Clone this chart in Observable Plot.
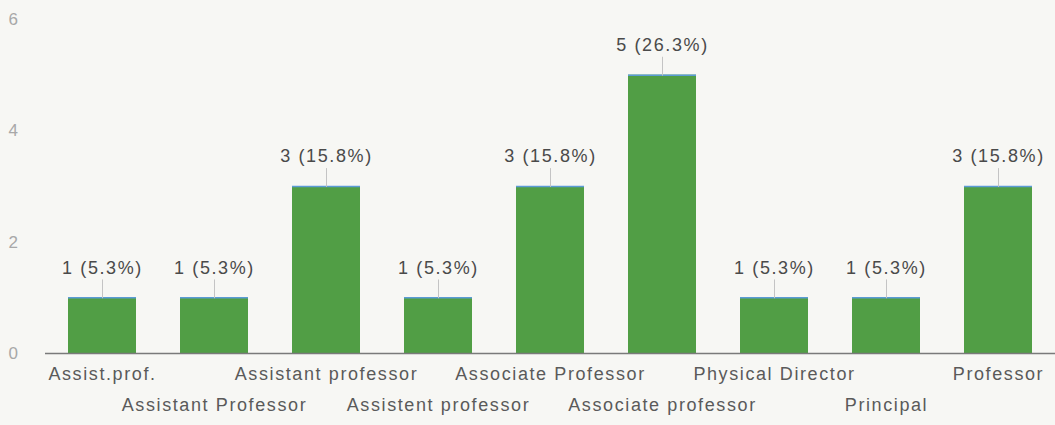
<!DOCTYPE html>
<html>
<head>
<meta charset="utf-8">
<script src="https://cdn.jsdelivr.net/npm/d3@7"></script>
<script src="https://cdn.jsdelivr.net/npm/@observablehq/plot@0.6"></script>
<style>
  html, body { margin: 0; padding: 0; background: #f7f7f4; }
  #chart svg text { letter-spacing: 1.6px; }
</style>
</head>
<body>
<div id="chart"></div>
<script>
const categories = ["Assist.prof.", "Assistant Professor", "Assistant professor", "Assistent professor", "Associate Professor", "Associate professor", "Physical Director", "Principal", "Professor"];
const counts = [1, 1, 3, 1, 3, 5, 1, 1, 3];
const percents = ["5.3%", "5.3%", "15.8%", "5.3%", "15.8%", "26.3%", "5.3%", "5.3%", "15.8%"];
const yTicks = [0, 2, 4, 6];

const data = categories.map((c, i) => ({cat: c, v: counts[i], label: `${counts[i]} (${percents[i]})`, row: i % 2}));

const spike = {draw(ctx, l) { ctx.moveTo(0, 0); ctx.lineTo(0, -l); }};

const chart = Plot.plot({
  width: 1055,
  height: 425,
  marginLeft: 45,
  marginRight: 0,
  marginTop: 19,
  marginBottom: 72,
  style: {background: "#f7f7f4", fontFamily: "'Liberation Sans', Arial, sans-serif", overflow: "visible"},
  x: {domain: categories, paddingInner: 0.39, paddingOuter: 0.195, axis: null},
  y: {domain: [0, 6], axis: null},
  marks: [
    Plot.axisY({ticks: yTicks, tickFormat: d => String(d), label: null, tickSize: 0, tickPadding: 26, fontSize: 17, color: "#a8a8a8"}),
    Plot.barY(data, {x: "cat", y: "v", fill: "#519e45"}),
    Plot.tickY(data, {x: "cat", y: "v", stroke: "#5b9bd5", strokeWidth: 1.5}),
    Plot.ruleY([0], {stroke: "#7a7a7a", strokeWidth: 1.5}),
    Plot.vector(data, {x: "cat", y: "v", length: 18, anchor: "start", rotate: 0, stroke: "#c4c4c4", strokeWidth: 1, shape: spike}),
    Plot.text(data, {x: "cat", y: "v", text: "label", dy: -30, fontSize: 18, fill: "#4a4a4a"}),
    Plot.text(data.filter(d => d.row === 0), {x: "cat", text: "cat", frameAnchor: "bottom", dy: 26, fontSize: 18, fill: "#5a5a5a"}),
    Plot.text(data.filter(d => d.row === 1), {x: "cat", text: "cat", frameAnchor: "bottom", dy: 57, fontSize: 18, fill: "#5a5a5a"})
  ]
});
document.getElementById("chart").appendChild(chart);
</script>
</body>
</html>
